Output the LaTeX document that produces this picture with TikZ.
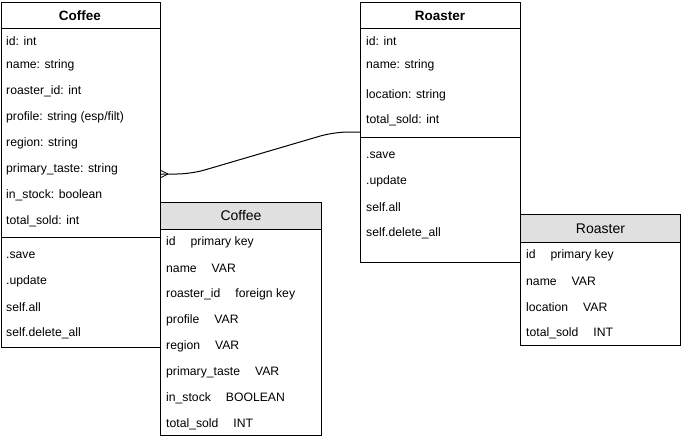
\documentclass[tikz,border=0pt]{standalone}
\usepackage{fontspec}
\setmainfont{Liberation Sans}
\usepackage{xcolor}
\usetikzlibrary{positioning,calc}

\definecolor{headgray}{HTML}{E0E0E0}
\newcommand{\colgap}{\hspace{15pt}}
\tikzset{
    box/.style={draw=black, line width=1pt, anchor=north west, inner sep=0pt},
    headbox/.style={box, fill=headgray},
    rowtext/.style={anchor=west, inner sep=0pt, font=\fontsize{12.2}{14}\selectfont},
    classtitle/.style={inner sep=0pt, font=\fontsize{13.5}{15}\selectfont\bfseries},
    tabletitle/.style={inner sep=0pt, font=\fontsize{14}{16}\selectfont},
}

\begin{document}
\begin{tikzpicture}[x=1pt,y=-1pt]
    \useasboundingbox (0,0) rectangle (681,439);

    % coffee class
    \node[box, minimum width=159.5pt, minimum height=345pt] (coffeeclass) at (0.5,2) {};
    \node[classtitle] (coffeeclasstitle) at (80,15.5) {Coffee};
    \draw[line width=1pt] (coffeeclass.west |- 0,28) -- (coffeeclass.east |- 0,28);
    \draw[line width=1pt] (coffeeclass.west |- 0,237) -- (coffeeclass.east |- 0,237);
    \node[rowtext] (cc1) at (6,41) {id: int};
    \node[rowtext] (cc2) at (6,65) {name: string};
    \node[rowtext] (cc3) at (6,91) {roaster\_id: int};
    \node[rowtext] (cc4) at (6,117) {profile: string (esp/filt)};
    \node[rowtext] (cc5) at (6,143) {region: string};
    \node[rowtext] (cc6) at (6,169) {primary\_taste: string};
    \node[rowtext] (cc7) at (6,195) {in\_stock: boolean};
    \node[rowtext] (cc8) at (6,221) {total\_sold: int};
    \node[rowtext] (cm1) at (6,255) {.save};
    \node[rowtext] (cm2) at (6,281) {.update};
    \node[rowtext] (cm3) at (6,307) {self.all};
    \node[rowtext] (cm4) at (6,333) {self.delete\_all};

    % roaster class
    \node[box, minimum width=160pt, minimum height=260pt] (roasterclass) at (360,2) {};
    \node[classtitle] (roasterclasstitle) at (440,15.5) {Roaster};
    \draw[line width=1pt] (roasterclass.west |- 0,28) -- (roasterclass.east |- 0,28);
    \draw[line width=1pt] (roasterclass.west |- 0,137) -- (roasterclass.east |- 0,137);
    \node[rowtext] (rc1) at (366,41) {id: int};
    \node[rowtext] (rc2) at (366,65) {name: string};
    \node[rowtext] (rc3) at (366,95) {location: string};
    \node[rowtext] (rc4) at (366,120) {total\_sold: int};
    \node[rowtext] (rm1) at (366,155) {.save};
    \node[rowtext] (rm2) at (366,181) {.update};
    \node[rowtext] (rm3) at (366,207) {self.all};
    \node[rowtext] (rm4) at (366,233) {self.delete\_all};

    % coffee table
    \node[box, fill=white, minimum width=161pt, minimum height=233pt] (coffeetable) at (160,202) {};
    \node[headbox, minimum width=161pt, minimum height=27pt] (coffeehead) at (160,202) {};
    \node[tabletitle] (coffeetabletitle) at (coffeehead.center) {Coffee};
    \node[rowtext] (ct1) at (166,242) {id\colgap primary key};
    \node[rowtext] (ct2) at (166,268) {name\colgap VAR};
    \node[rowtext] (ct3) at (166,294) {roaster\_id\colgap foreign key};
    \node[rowtext] (ct4) at (166,320) {profile\colgap VAR};
    \node[rowtext] (ct5) at (166,346) {region\colgap VAR};
    \node[rowtext] (ct6) at (166,372) {primary\_taste\colgap VAR};
    \node[rowtext] (ct7) at (166,398) {in\_stock\colgap BOOLEAN};
    \node[rowtext] (ct8) at (166,424) {total\_sold\colgap INT};

    % roaster table
    \node[box, fill=white, minimum width=160pt, minimum height=131pt] (roastertable) at (520,214) {};
    \node[headbox, minimum width=160pt, minimum height=28pt] (roasterhead) at (520,214) {};
    \node[tabletitle] (roastertabletitle) at (roasterhead.center) {Roaster};
    \node[rowtext] (rt1) at (526,255) {id\colgap primary key};
    \node[rowtext] (rt2) at (526,281) {name\colgap VAR};
    \node[rowtext] (rt3) at (526,307) {location\colgap VAR};
    \node[rowtext] (rt4) at (526,333) {total\_sold\colgap INT};

    % relation: many coffees to one roaster
    \coordinate (many) at (coffeeclass.east |- 0,174);
    \coordinate (one) at (roasterclass.west |- 0,132);
    \draw[line width=1pt, rounded corners=14pt] (many) -- ($(many)+(30,0)$) -- ($(one)+(-26,0)$) -- (one);
    \draw[line width=0.8pt] ($(many)+(7,0)$) -- ($(many)+(0,-3.5)$);
    \draw[line width=0.8pt] ($(many)+(7,0)$) -- ($(many)+(0,3.5)$);
\end{tikzpicture}
\end{document}
